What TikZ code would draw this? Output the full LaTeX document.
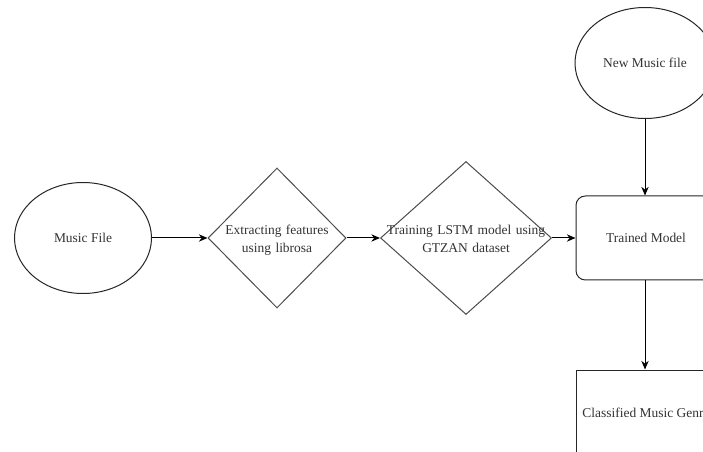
\documentclass[tikz,border=0pt]{standalone}
\usepackage{fontspec}
\setmainfont{Liberation Serif}
\usetikzlibrary{shapes.geometric,arrows.meta}
\begin{document}
\begin{tikzpicture}[x=0.75pt,y=-0.75pt,
  every node/.style={font=\fontsize{10.1pt}{13.5pt}\selectfont, text=black!80},
  ell/.style={draw=black!85, line width=0.75pt, ellipse},
  dia/.style={draw=black!70, line width=0.75pt, diamond, align=center, inner sep=0pt},
  rbox/.style={draw=black!85, line width=0.75pt, rectangle, align=center},
  conn/.style={draw=black, line width=0.75pt, -{Stealth[length=6.5pt,width=5.5pt]}}]
\useasboundingbox (0,0) rectangle (703,452);
\clip (0,0) rectangle (703,452);
\fill[white] (0,0) rectangle (703,452);
\node[ell, minimum width=137*0.75pt, minimum height=111*0.75pt] (mf) at (83,238) {Music File};
\node[dia, minimum width=138*0.75pt, minimum height=140*0.75pt] (d1) at (277,238) {};
\node[text width=110*0.75pt, align=center] (t1) at (277,240) {Extracting features\\using librosa};
\node[dia, minimum width=171*0.75pt, minimum height=153*0.75pt] (d2) at (466,238) {};
\node[text width=170*0.75pt, align=center] (t2) at (466,239) {Training LSTM model using\\GTZAN dataset};
\node[rbox, rounded corners=7pt, minimum width=140*0.75pt, minimum height=84*0.75pt] (tm) at (646,238) {Trained Model};
\node[ell, minimum width=140*0.75pt, minimum height=111*0.75pt] (nm) at (645,63) {New Music file};
\node[rbox, minimum width=140*0.75pt, minimum height=86*0.75pt] (cg) at (646,413) {Classified Music Genre};
\draw[conn] (mf.east) -- (d1.west);
\draw[conn] (d1.east) -- (d2.west);
\draw[conn] (d2.east) -- (tm.west);
\draw[conn] (nm.south) -- (nm.south |- tm.north);
\draw[conn] (tm.south -| nm.south) -- (nm.south |- cg.north);
\end{tikzpicture}
\end{document}
